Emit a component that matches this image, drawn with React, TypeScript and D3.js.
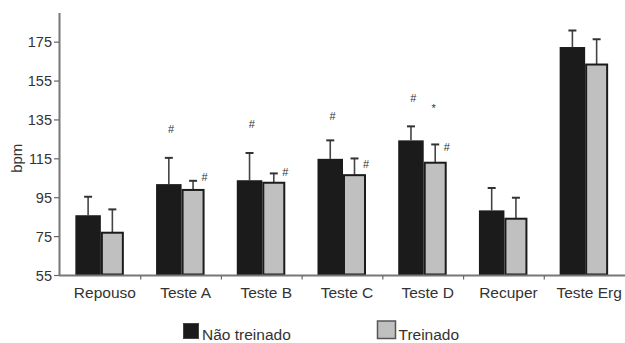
import React from "react";
import * as d3 from "d3";

const categories = ["Repouso", "Teste A", "Teste B", "Teste C", "Teste D", "Recuper", "Teste Erg"];
const naoTreinado = [86, 102, 104, 115, 124.5, 88.5, 172.5];
const naoTreinadoErr = [9.5, 13.5, 14, 9.5, 7.2, 11.5, 8.5];
const treinado = [77, 99, 102.7, 106.6, 113, 84.2, 163.5];
const treinadoErr = [12, 4.7, 4.8, 8.6, 9.4, 10.8, 13];
const yTicks = [55, 75, 95, 115, 135, 155, 175];
// annotation markers: category, which bar, symbol, value position (bpm)
const markers = [
  { cat: "Teste A", series: "nt", sym: "#", v: 130.3 },
  { cat: "Teste A", series: "t", sym: "#", v: 105.8 },
  { cat: "Teste B", series: "nt", sym: "#", v: 132.9 },
  { cat: "Teste B", series: "t", sym: "#", v: 108.3 },
  { cat: "Teste C", series: "nt", sym: "#", v: 137.2 },
  { cat: "Teste C", series: "t", sym: "#", v: 112.3 },
  { cat: "Teste D", series: "nt", sym: "#", v: 146.4 },
  { cat: "Teste D", series: "star", sym: "*", v: 143.2 },
  { cat: "Teste D", series: "t", sym: "#", v: 121.2 },
];
const legendLabels = ["Não treinado", "Treinado"];

const W = 625;
const H = 343;
const FONT = "'Liberation Sans', Arial, sans-serif";
const TXT = "#333";

export default function App() {
  const x = d3.scaleBand<string>().domain(categories).range([60, 625]).padding(0);
  const y = d3.scaleLinear().domain([55, 190]).range([275.5, 13]);
  const bw = x.bandwidth();
  const blackW = 25.5;
  const grayW = 21;

  return (
    <svg
      width={W}
      height={H}
      style={{ position: "absolute", left: 0, top: 0, display: "block" }}
      fontFamily={FONT}
    >
      <rect x={0} y={0} width={W} height={H} fill="#fff" />
      {/* bars */}
      {categories.map((c, i) => {
        const cx = (x(c) as number) + bw / 2;
        const bx = cx - 25;
        const gx = cx + 1.5;
        const bTop = y(naoTreinado[i]);
        const gTop = y(treinado[i]);
        const bErr = y(naoTreinado[i] + naoTreinadoErr[i]);
        const gErr = y(treinado[i] + treinadoErr[i]);
        const bMid = bx + blackW / 2;
        const gMid = gx + grayW / 2;
        return (
          <g key={c}>
            <line x1={bMid} x2={bMid} y1={bTop} y2={bErr} stroke="#444" strokeWidth={1.6} />
            <line x1={bMid - 4} x2={bMid + 4} y1={bErr} y2={bErr} stroke="#333" strokeWidth={2} />
            <line x1={gMid} x2={gMid} y1={gTop} y2={gErr} stroke="#444" strokeWidth={1.6} />
            <line x1={gMid - 4} x2={gMid + 4} y1={gErr} y2={gErr} stroke="#333" strokeWidth={2} />
            <rect x={bx} y={bTop} width={blackW} height={y(55) - bTop} fill="#1b1b1b" />
            <rect
              x={gx}
              y={gTop}
              width={grayW}
              height={y(55) - gTop - 1}
              fill="#c0c0c0"
              stroke="#1b1b1b"
              strokeWidth={2}
            />
          </g>
        );
      })}
      {/* markers */}
      {markers.map((m, i) => {
        const cx = (x(m.cat) as number) + bw / 2;
        const mx = m.series === "nt" ? cx - 10 : m.series === "t" ? cx + 23.5 : cx + 10.5;
        return (
          <text
            key={i}
            x={mx}
            y={y(m.v)}
            dy={m.sym === "*" ? "0.75em" : "0.35em"}
            textAnchor="middle"
            fontSize={11}
            fill={TXT}
          >
            {m.sym}
          </text>
        );
      })}
      {/* y axis */}
      <line x1={59.5} x2={59.5} y1={y(190)} y2={y(55) + 0.5} stroke="#777" strokeWidth={2} />
      {yTicks.map((t) => (
        <g key={t}>
          <line x1={54} x2={59} y1={y(t)} y2={y(t)} stroke="#666" strokeWidth={1.2} />
          <text x={52} y={y(t)} dy="0.36em" textAnchor="end" fontSize={14.5} fill={TXT}>
            {t}
          </text>
        </g>
      ))}
      <text
        transform={`translate(22,${(y(55) + y(190)) / 2 + 14}) rotate(-90)`}
        textAnchor="middle"
        fontSize={15}
        fill={TXT}
      >
        bpm
      </text>
      {/* x axis */}
      <line x1={59} x2={625} y1={y(55)} y2={y(55)} stroke="#777" strokeWidth={2} />
      {categories.map((c, i) => {
        const left = x(c) as number;
        return (
          <g key={c}>
            {i > 0 && (
              <line x1={left} x2={left} y1={y(55)} y2={y(55) + 4} stroke="#666" strokeWidth={1.2} />
            )}
            <text x={left + bw / 2 + 4.5} y={297.5} textAnchor="middle" fontSize={15.5} fill={TXT}>
              {c}
            </text>
          </g>
        );
      })}
      {/* legend */}
      <rect x={183.5} y={323.5} width={15} height={15} fill="#1b1b1b" stroke="#444" strokeWidth={1} />
      <text x={202} y={340} fontSize={15.5} fill={TXT}>
        {legendLabels[0]}
      </text>
      <rect x={377.5} y={321} width={18} height={17.5} fill="#c0c0c0" stroke="#555" strokeWidth={1.5} />
      <text x={398.5} y={340} fontSize={15.5} fill={TXT}>
        {legendLabels[1]}
      </text>
    </svg>
  );
}
